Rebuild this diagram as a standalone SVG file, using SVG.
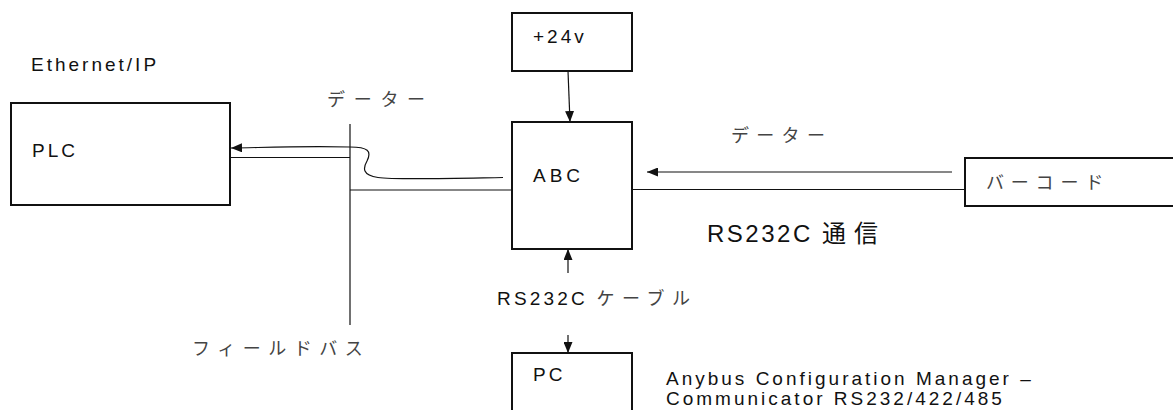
<svg xmlns="http://www.w3.org/2000/svg" width="1173" height="410" viewBox="0 0 1173 410">
  <style>
    .box { fill: #fff; stroke: #111; stroke-width: 2; }
    .ln { fill: none; stroke: #111; stroke-width: 1.2; }
    .lat { font-family: "Liberation Sans", Arial, sans-serif; font-size: 19px; fill: #111; letter-spacing: 3px; }
    .jp { font-family: "Noto Sans CJK JP", sans-serif; font-size: 18px; fill: #444; letter-spacing: 7.5px; }
  </style>
  <defs>
    <marker id="arr" markerUnits="userSpaceOnUse" markerWidth="11" markerHeight="9" refX="11" refY="4.5" orient="auto">
      <path d="M0,0 L11,4.5 L0,9 z" fill="#111"/>
    </marker>
  </defs>
  <rect width="1173" height="410" fill="#fff"/>

  <g id="connectors">
    <line class="ln" x1="350" y1="124" x2="350" y2="325"/>
    <line class="ln" x1="230" y1="157.5" x2="350" y2="157.5"/>
    <line class="ln" x1="350" y1="190" x2="512" y2="190"/>
    <path class="ln" d="M503,177.5 C450,178.5 395,180 378,177.5 C362,175 363,168 367,161 C372,151 368,147 350,147 C300,146 265,147.5 231,148" marker-end="url(#arr)"/>
    <line class="ln" x1="568" y1="71" x2="570" y2="122" marker-end="url(#arr)"/>
    <line class="ln" x1="632" y1="189.5" x2="965" y2="189.5"/>
    <line class="ln" x1="952" y1="172" x2="647" y2="172" marker-end="url(#arr)"/>
    <line class="ln" x1="568" y1="273" x2="568" y2="249" marker-end="url(#arr)"/>
    <line class="ln" x1="568" y1="335" x2="568" y2="353" marker-end="url(#arr)"/>
  </g>

  <g id="plc">
    <rect class="box" x="11" y="103" width="219" height="102"/>
    <text class="lat" x="32" y="157">PLC</text>
  </g>
  <g id="power">
    <rect class="box" x="512" y="13" width="120" height="58"/>
    <text class="lat" x="533" y="43">+24v</text>
  </g>
  <g id="abc">
    <rect class="box" x="512" y="122" width="120" height="127"/>
    <text class="lat" x="533" y="182" style="letter-spacing:4px">ABC</text>
  </g>
  <g id="barcode">
    <rect class="box" x="965" y="158" width="212" height="48"/>
    <text class="jp" x="986" y="189" style="letter-spacing:6.8px">バーコード</text>
  </g>
  <g id="pc">
    <rect class="box" x="512" y="353" width="120" height="70"/>
    <text class="lat" x="533" y="381">PC</text>
  </g>

  <g id="labels">
    <text class="lat" x="31" y="71">Ethernet/IP</text>
    <text class="jp" x="327" y="106" style="letter-spacing:8.7px">データー</text>
    <text class="jp" x="731" y="142" style="letter-spacing:7.3px">データー</text>
    <text class="lat" x="707" y="242" style="font-size:24px;letter-spacing:2.5px">RS232C <tspan style="font-family:'Noto Sans CJK JP',sans-serif;letter-spacing:8px">通信</tspan></text>
    <text class="lat" x="497" y="305" style="letter-spacing:3.2px">RS232C <tspan class="jp" style="fill:#444">ケーブル</tspan></text>
    <text class="jp" x="192" y="355">フィールドバス</text>
    <text class="lat" x="666" y="385">Anybus Configuration Manager –</text>
    <text class="lat" x="666" y="405">Communicator RS232/422/485</text>
  </g>
</svg>
